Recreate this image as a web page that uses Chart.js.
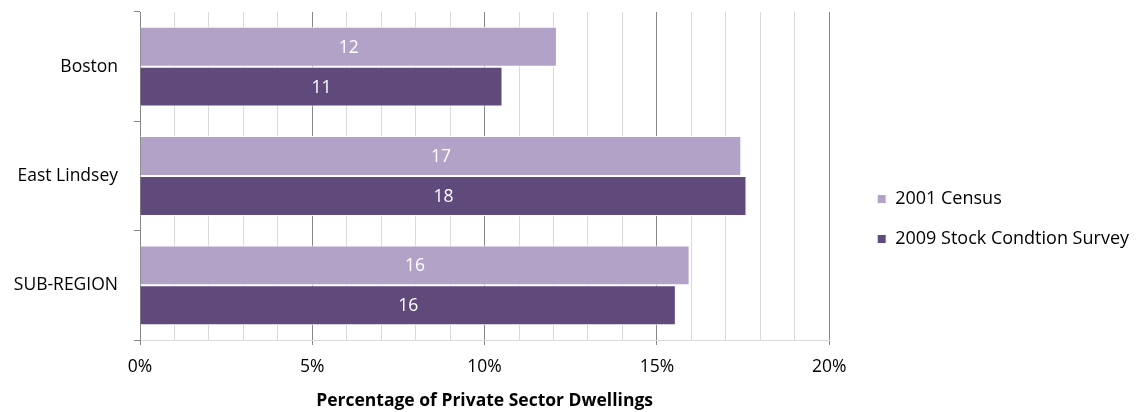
<!DOCTYPE html>
<html>
<head>
<meta charset="utf-8">
<script src="https://cdn.jsdelivr.net/npm/chart.js@4.4.1/dist/chart.umd.min.js"></script>
<style>
  html, body { margin: 0; padding: 0; background: #fff; }
  #wrap { width: 1146px; height: 412px; }
</style>
</head>
<body>
<div id="wrap"><canvas id="chart"></canvas></div>
<script>
const regions = ['Boston', 'East Lindsey', 'SUB-REGION'];
const census2001 = [12.1, 17.45, 15.95];
const survey2009 = [10.52, 17.6, 15.55];
const seriesNames = ['2001 Census', '2009 Stock Condtion Survey'];
const xTickLabels = [0, 5, 10, 15, 20];

const FONT = '"Open Sans", "DejaVu Sans", sans-serif';
const LIGHT = '#b3a2c7';
const DARK = '#604a7b';
const MAJOR = '#868686';
const MINOR = '#d9d9d9';

// white value labels in the middle of each bar
const barLabels = {
  id: 'barLabels',
  afterDatasetsDraw(chart) {
    const ctx = chart.ctx;
    ctx.save();
    ctx.fillStyle = '#fff';
    ctx.font = '17.5px ' + FONT;
    ctx.textAlign = 'center';
    ctx.textBaseline = 'middle';
    chart.data.datasets.forEach((ds, i) => {
      chart.getDatasetMeta(i).data.forEach((bar, j) => {
        const { x, y, base } = bar.getProps(['x', 'y', 'base'], true);
        ctx.fillText(String(Math.round(ds.data[j])), (x + base) / 2, y + 1);
      });
    });
    ctx.restore();
  }
};

// leave a gap between the plot area and the legend
const legendGap = 33;
const legendShift = 26;
const legendDrop = 14;
const legendSpacer = {
  id: 'legendSpacer',
  beforeInit(chart) {
    const fit = chart.legend.fit;
    chart.legend.fit = function () {
      fit.call(this);
      this.width += legendGap;
    };
  },
  afterLayout(chart) {
    chart.legend.left += legendShift;
    chart.legend.top += legendDrop;
  }
};

new Chart(document.getElementById('chart'), {
  type: 'bar',
  data: {
    labels: regions,
    datasets: [
      { label: seriesNames[0], data: census2001, backgroundColor: LIGHT },
      { label: seriesNames[1], data: survey2009, backgroundColor: DARK }
    ]
  },
  options: {
    indexAxis: 'y',
    responsive: true,
    maintainAspectRatio: false,
    animation: false,
    layout: { padding: { top: 12, left: 0, right: 0, bottom: 0 } },
    datasets: {
      bar: {
        categoryPercentage: 0.73,
        barPercentage: 1,
        borderWidth: 1,
        borderColor: '#fff',
        borderSkipped: 'start'
      }
    },
    plugins: {
      legend: {
        position: 'right',
        labels: {
          font: { family: FONT, size: 18 },
          color: '#000',
          boxWidth: 9,
          boxHeight: 9,
          padding: 22
        }
      },
      tooltip: { enabled: false }
    },
    scales: {
      x: {
        min: 0,
        max: 20,
        afterFit(scale) { scale.height = 72; },
        ticks: {
          stepSize: 1,
          autoSkip: false,
          maxRotation: 0,
          padding: 12,
          color: '#000',
          font: { family: FONT, size: 17.5 },
          callback: (v) => xTickLabels.includes(v) ? v + '%' : ''
        },
        grid: {
          color: (c) => c.tick && xTickLabels.includes(c.tick.value) ? MAJOR : MINOR,
          tickColor: (c) => c.tick && xTickLabels.includes(c.tick.value) ? MAJOR : 'rgba(0,0,0,0)',
          tickLength: 5
        },
        border: { color: MINOR },
        title: {
          display: true,
          text: 'Percentage of Private Sector Dwellings',
          color: '#000',
          font: { family: FONT, size: 17.5, weight: 'bold' },
          padding: { top: 0, bottom: 0 }
        }
      },
      y: {
        afterFit(scale) {
          scale.width = 140;
          scale.paddingTop = 0;
          scale.paddingBottom = 0;
        },
        ticks: {
          color: '#000',
          padding: 16,
          font: { family: FONT, size: 17.5 }
        },
        grid: {
          drawOnChartArea: false,
          color: MAJOR,
          tickLength: 6
        },
        border: { color: MAJOR }
      }
    }
  },
  plugins: [barLabels, legendSpacer]
});
</script>
</body>
</html>
